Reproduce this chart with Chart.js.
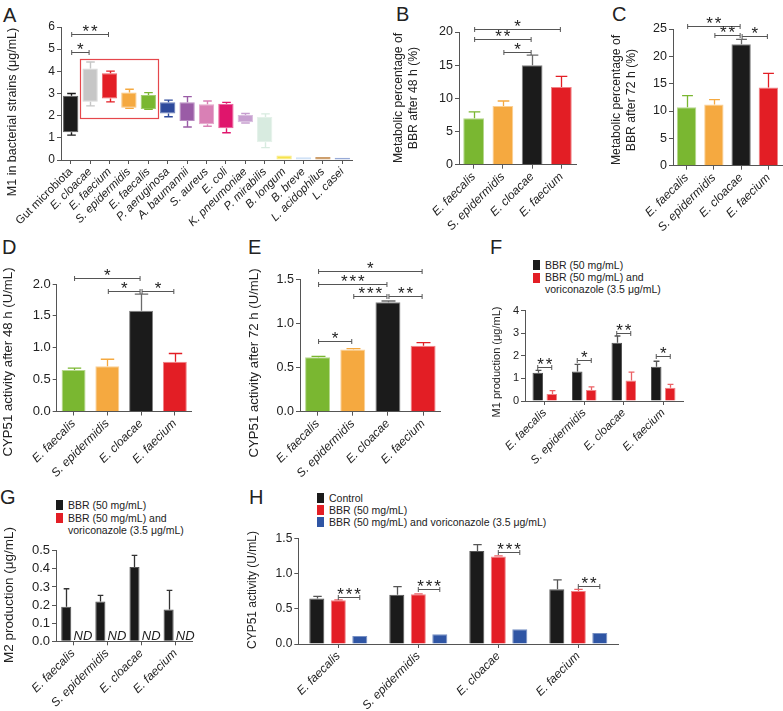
<!DOCTYPE html>
<html>
<head>
<meta charset="utf-8">
<title>BBR metabolism by gut bacteria</title>
<script src="https://cdn.jsdelivr.net/npm/chart.js@4.4.1/dist/chart.umd.min.js"></script>
<style>
  html, body { margin: 0; padding: 0; background: #fff; }
  body { position: relative; width: 783px; height: 711px; overflow: hidden; font-family: 'Liberation Sans', Arial, sans-serif; color: #222; }
  canvas { position: absolute; }
  .tag { position: absolute; font-size: 20px; line-height: 20px; }
  .key { position: absolute; font-size: 10.5px; line-height: 12px; white-space: nowrap; }
  .sw { position: absolute; width: 7px; height: 10px; }
</style>
</head>
<body>
<div class="tag" style="left:3px;top:5px">A</div>
<div class="tag" style="left:396px;top:4px">B</div>
<div class="tag" style="left:612px;top:4px">C</div>
<div class="tag" style="left:2px;top:237px">D</div>
<div class="tag" style="left:248px;top:237px">E</div>
<div class="tag" style="left:490px;top:237px">F</div>
<div class="tag" style="left:0px;top:487px">G</div>
<div class="tag" style="left:249px;top:487px">H</div>

<!-- legend F -->
<div class="sw" style="left:533px;top:260px;background:#1b1b1b"></div>
<div class="sw" style="left:533px;top:273px;background:#e31e25"></div>
<div class="key" style="left:545px;top:259px">BBR (50 mg/mL)</div>
<div class="key" style="left:545px;top:271px">BBR (50 mg/mL) and</div>
<div class="key" style="left:545px;top:283px">voriconazole (3.5 μg/mL)</div>

<!-- legend G -->
<div class="sw" style="left:56px;top:500px;background:#1b1b1b"></div>
<div class="sw" style="left:56px;top:513px;background:#e31e25"></div>
<div class="key" style="left:68px;top:499px">BBR (50 mg/mL)</div>
<div class="key" style="left:68px;top:512px">BBR (50 mg/mL) and</div>
<div class="key" style="left:68px;top:524px">voriconazole (3.5 μg/mL)</div>

<!-- legend H -->
<div class="sw" style="left:317px;top:493px;background:#1b1b1b"></div>
<div class="sw" style="left:317px;top:505px;background:#e31e25"></div>
<div class="sw" style="left:317px;top:517px;background:#2f55a4"></div>
<div class="key" style="left:329px;top:492px">Control</div>
<div class="key" style="left:329px;top:504px">BBR (50 mg/mL)</div>
<div class="key" style="left:329px;top:516px">BBR (50 mg/mL) and voriconazole (3.5 μg/mL)</div>

<script>
// ---- data ----
var speciesA = ['Gut microbiota', 'E. cloacae', 'E. faecium', 'S. epidermidis', 'E. faecalis',
  'P. aeruginosa', 'A. baumannii', 'S. aureus', 'E. coli', 'K. pneumoniae', 'P. mirabilis',
  'B. longum', 'B. breve', 'L. acidophilus', 'L. casei'];
var minA = [1.12, 2.44, 2.62, 2.33, 2.29, 1.95, 1.49, 1.52, 1.23, 1.67, 0.56, 0, 0, 0, 0];
var q1A  = [1.25, 2.63, 2.78, 2.36, 2.30, 2.10, 1.76, 1.61, 1.43, 1.70, 0.80, 0, 0, 0, 0];
var q3A  = [2.90, 4.13, 3.91, 3.05, 2.93, 2.60, 2.60, 2.51, 2.54, 2.03, 1.94, 0.20, 0.12, 0.13, 0.10];
var maxA = [3.00, 4.42, 4.01, 3.19, 3.04, 2.70, 2.86, 2.66, 2.60, 2.10, 2.08, 0.20, 0.12, 0.13, 0.10];
var highlightA = [1, 4, 1.88, 4.54];   // first strain, last strain, low, high
var sigA = [[0, 1, 4.85, '*'], [0, 2, 5.7, '**']];
var ticksA = [0, 1, 2, 3, 4, 5, 6];

var strains = ['E. faecalis', 'S. epidermidis', 'E. cloacae', 'E. faecium'];

var metab48 = [7.0, 8.85, 15.0, 11.7];
var metab48Err = [0.95, 0.75, 1.5, 1.6];
var sigB = [[0, 3, 20.5, '*'], [0, 2, 18.9, '**'], [1, 2, 17.0, '*']];
var ticksB = [0, 5, 10, 15, 20];

var metab72 = [10.7, 11.2, 22.2, 14.3];
var metab72Err = [2.1, 0.9, 0.9, 2.6];
var sigC = [[0, 2, 25.6, '**'], [1, 2, 23.9, '**'], [2, 3, 23.7, '*']];
var ticksC = [0, 5, 10, 15, 20, 25];

var cyp48 = [0.65, 0.71, 1.58, 0.78];
var cyp48Err = [0.03, 0.11, 0.26, 0.13];
var sigD = [[0, 2, 2.1, '*'], [1, 2, 1.885, '*'], [2, 3, 1.885, '*']];
var ticksD = [0, 0.5, 1.0, 1.5, 2.0];

var cyp72 = [0.616, 0.706, 1.239, 0.748];
var cyp72Err = [0.011, 0.008, 0.015, 0.034];
var sigE = [[0, 3, 1.594, '*'], [0, 2, 1.447, '***'], [1, 2, 1.311, '***'], [2, 3, 1.311, '**'], [0, 1, 0.797, '*']];
var ticksE = [0, 0.5, 1.0, 1.5];

var m1Bbr = [1.25, 1.31, 2.58, 1.52];
var m1BbrErr = [0.11, 0.31, 0.30, 0.24];
var m1Vori = [0.31, 0.49, 0.91, 0.59];
var m1VoriErr = [0.15, 0.14, 0.37, 0.15];
var sigF = [[0, 1.5, '**'], [1, 1.81, '*'], [2, 3.02, '**'], [3, 2.0, '*']];
var ticksF = [0, 1, 2, 3, 4];

var m2Bbr = [0.19, 0.22, 0.41, 0.176];
var m2BbrErr = [0.10, 0.034, 0.064, 0.105];
var m2Vori = [0, 0, 0, 0];   // not detected
var ticksG = [0, 0.1, 0.2, 0.3, 0.4, 0.5];

var cypControl = [0.644, 0.70, 1.32, 0.776];
var cypControlErr = [0.033, 0.114, 0.09, 0.133];
var cypBbr = [0.62, 0.705, 1.24, 0.752];
var cypBbrErr = [0.005, 0.005, 0.01, 0.024];
var cypVori = [0.114, 0.137, 0.208, 0.156];
var sigH = [[0, 0.672, '***'], [1, 0.776, '***'], [2, 1.306, '***'], [3, 0.828, '**']];
var ticksH = [0, 0.5, 1.0, 1.5];

// ---- styles ----
var FONT = "'Liberation Sans', Arial, sans-serif";
var AXIS = '#555';
var TXT = '#222';
var boxColors = ['#1b1b1b', '#c6c6c6', '#e31e25', '#f5a940', '#7ab731', '#2e4a9c', '#9a5ca6',
  '#d980b5', '#e0156c', '#c79fd0', '#d8ebe0', '#f7e34c', '#b7d3f2', '#b8742b', '#6a86c6'];
var strainColors = ['#7ab731', '#f5a940', '#1b1b1b', '#e31e25'];
var strainErrColors = ['#7ab731', '#f5a940', '#6b6b6b', '#e31e25'];
var BLACK = '#1b1b1b', RED = '#e31e25', BLUE = '#2f55a4';

Chart.defaults.font.family = FONT;
Chart.defaults.color = TXT;

function light(hex, k) {
  var n = parseInt(hex.slice(1), 16);
  var r = (n >> 16) & 255, g = (n >> 8) & 255, b = n & 255;
  r = Math.round(r + (255 - r) * k); g = Math.round(g + (255 - g) * k); b = Math.round(b + (255 - b) * k);
  return 'rgb(' + r + ',' + g + ',' + b + ')';
}

function place(rect) {
  var cv = document.createElement('canvas');
  cv.width = rect[2]; cv.height = rect[3];
  cv.style.left = rect[0] + 'px'; cv.style.top = rect[1] + 'px';
  document.body.appendChild(cv);
  return cv;
}

function stars(ctx, cx, lineY, n) {
  ctx.font = '17px ' + FONT;
  ctx.fillStyle = TXT;
  ctx.textAlign = 'center';
  ctx.textBaseline = 'alphabetic';
  var m = ctx.measureText('*');
  var mid = (m.actualBoundingBoxDescent - m.actualBoundingBoxAscent) / 2;
  var base = lineY - 6.5 - mid;
  for (var k = 0; k < n; k++) {
    ctx.fillText('*', cx + (k - (n - 1) / 2) * 8.5, base);
  }
}

function bracket(ctx, xa, xb, yy, label) {
  yy = Math.round(yy) + 0.5;
  ctx.strokeStyle = AXIS; ctx.lineWidth = 1;
  ctx.beginPath();
  ctx.moveTo(xa, yy); ctx.lineTo(xb, yy);
  ctx.moveTo(xa, yy - 2.5); ctx.lineTo(xa, yy + 2.5);
  ctx.moveTo(xb, yy - 2.5); ctx.lineTo(xb, yy + 2.5);
  ctx.stroke();
  stars(ctx, (xa + xb) / 2, yy, label.length);
}

function catBrackets(chart, list) {
  var x = chart.scales.x, y = chart.scales.y;
  list.forEach(function (s) {
    bracket(chart.ctx, x.getPixelForValue(s[0]) + 1, x.getPixelForValue(s[1]) - 1, y.getPixelForValue(s[2]), s[3]);
  });
}

function pairBrackets(chart, a, b, list) {
  var y = chart.scales.y, ma = chart.getDatasetMeta(a), mb = chart.getDatasetMeta(b);
  list.forEach(function (s) {
    bracket(chart.ctx, ma.data[s[0]].x, mb.data[s[0]].x, y.getPixelForValue(s[1]), s[2]);
  });
}

function errBars(chart, ds, vals, errs, colors) {
  var ctx = chart.ctx, y = chart.scales.y, meta = chart.getDatasetMeta(ds);
  meta.data.forEach(function (bar, i) {
    if (!errs[i]) return;
    var top = y.getPixelForValue(vals[i] + errs[i]);
    var half = bar.width * 0.28;
    var bx = Math.round(bar.x) + 0.5;
    ctx.strokeStyle = Array.isArray(colors) ? colors[i] : colors;
    ctx.lineWidth = 1.3;
    ctx.beginPath();
    ctx.moveTo(bx, y.getPixelForValue(vals[i])); ctx.lineTo(bx, top);
    ctx.moveTo(bx - half, top); ctx.lineTo(bx + half, top);
    ctx.stroke();
  });
}

function makeChart(spec) {
  var rect = spec.rect, area = spec.area;
  var cv = place(rect);
  var yTicks = spec.yTicks;
  var fmt = function (v) { return spec.decimals ? Number(v).toFixed(spec.decimals) : String(v); };
  var fullTicks = function (s) {
    s.ticks = yTicks.map(function (v) { return { value: v, label: fmt(v) }; });
    s._labelSizes = null;
  };
  var titlePlugin = {
    id: 'panelExtras',
    afterDatasetsDraw: function (chart) {
      chart.ctx.save();
      if (spec.draw) spec.draw(chart);
      chart.ctx.restore();
    },
    afterDraw: function (chart) {
      var ctx = chart.ctx, t = spec.title, y = chart.scales.y;
      ctx.save();
      // labels the y scale actually drew; any listed tick without one is added here
      var drawn = [];
      try {
        (y.getLabelItems ? y.getLabelItems(chart.chartArea) : y._labelItems || []).forEach(function (it) {
          drawn.push(String(it.label));
        });
      } catch (e) { drawn = []; }
      ctx.font = spec.tickSize + 'px ' + FONT;
      ctx.fillStyle = TXT; ctx.strokeStyle = AXIS; ctx.lineWidth = 1;
      ctx.textAlign = 'right'; ctx.textBaseline = 'middle';
      yTicks.forEach(function (v) {
        var lab = fmt(v);
        if (drawn.indexOf(lab) >= 0) return;
        var py = Math.round(y.getPixelForValue(v)) + 0.5, left = chart.chartArea.left;
        ctx.beginPath(); ctx.moveTo(left - 4, py); ctx.lineTo(left, py); ctx.stroke();
        ctx.fillText(lab, left - 6, py);
      });
      ctx.font = t.size + 'px ' + FONT;
      ctx.textAlign = 'center';
      ctx.textBaseline = 'middle';
      t.lines.forEach(function (line, k) {
        ctx.save();
        ctx.translate(t.xs[k] - rect[0], t.y - rect[1]);
        ctx.rotate(-Math.PI / 2);
        ctx.fillText(line, 0, 0);
        ctx.restore();
      });
      ctx.restore();
    }
  };
  return new Chart(cv, {
    type: 'bar',
    data: { labels: spec.labels, datasets: spec.datasets },
    options: {
      responsive: false,
      animation: false,
      events: [],
      layout: { padding: { left: 0, top: area[1] - rect[1], right: rect[0] + rect[2] - area[2], bottom: 0 } },
      plugins: { legend: { display: false }, tooltip: { enabled: false } },
      scales: {
        x: {
          grid: { display: true, drawOnChartArea: false, offset: false, tickLength: 4, color: AXIS },
          border: { color: AXIS, width: 1 },
          ticks: {
            autoSkip: false, maxRotation: 45, minRotation: 45, padding: 1, color: TXT,
            font: spec.xFont || { size: 12, style: 'italic' }
          },
          afterFit: function (s) { s.height = rect[1] + rect[3] - area[3]; s.paddingLeft = 0; s.paddingRight = 0; }
        },
        y: {
          min: yTicks[0], max: yTicks[yTicks.length - 1],
          grid: { drawOnChartArea: false, tickLength: 4, color: AXIS },
          border: { color: AXIS, width: 1 },
          ticks: {
            autoSkip: false, padding: 2, color: TXT,
            font: { size: spec.tickSize },
            callback: function (v) { return fmt(v); }
          },
          afterBuildTicks: function (s) { s.ticks = yTicks.map(function (v) { return { value: v }; }); },
          afterFit: function (s) {
            s.width = area[0] - rect[0]; s.paddingTop = 0; s.paddingBottom = 0;
            fullTicks(s);
          },
          afterUpdate: fullTicks
        }
      }
    },
    plugins: [titlePlugin]
  });
}

function strainSet(vals) {
  return [{
    data: vals, backgroundColor: strainColors,
    borderColor: strainColors.map(function (c) { return light(c, 0.45); }), borderWidth: 1,
    categoryPercentage: 1, barPercentage: 0.71
  }];
}

// ---- A: box plots ----
makeChart({
  rect: [0, 0, 372, 262], area: [61, 27, 352, 160],
  labels: speciesA, yTicks: ticksA, tickSize: 12,
  xFont: function (c) { return { size: 11.5, style: c.index === 0 ? 'normal' : 'italic' }; },
  title: { lines: ['M1 in bacterial strains (μg/mL)'], xs: [13], y: 112, size: 12.5 },
  datasets: [{
    data: q1A.map(function (v, i) { return [v, q3A[i]]; }),
    backgroundColor: boxColors,
    borderColor: boxColors.map(function (c) { return light(c, 0.3); }), borderWidth: 1,
    borderSkipped: false, categoryPercentage: 1, barPercentage: 0.79
  }],
  draw: function (chart) {
    var ctx = chart.ctx, x = chart.scales.x, y = chart.scales.y, meta = chart.getDatasetMeta(0);
    meta.data.forEach(function (bar, i) {
      var bx = Math.round(bar.x) + 0.5, half = bar.width * 0.28;
      ctx.strokeStyle = boxColors[i]; ctx.lineWidth = 1.4;
      ctx.beginPath();
      if (maxA[i] > q3A[i]) {
        var t = y.getPixelForValue(maxA[i]);
        ctx.moveTo(bx, y.getPixelForValue(q3A[i])); ctx.lineTo(bx, t);
        ctx.moveTo(bx - half, t); ctx.lineTo(bx + half, t);
      }
      if (minA[i] < q1A[i]) {
        var b = y.getPixelForValue(minA[i]);
        ctx.moveTo(bx, y.getPixelForValue(q1A[i])); ctx.lineTo(bx, b);
        ctx.moveTo(bx - half, b); ctx.lineTo(bx + half, b);
      }
      ctx.stroke();
    });
    var l = x.getPixelForValue(highlightA[0] - 0.5), r = x.getPixelForValue(highlightA[1] + 0.5);
    var top = y.getPixelForValue(highlightA[3]), bot = y.getPixelForValue(highlightA[2]);
    ctx.strokeStyle = '#e5474c'; ctx.lineWidth = 1.2;
    ctx.strokeRect(Math.round(l) + 0.5, Math.round(top) + 0.5, Math.round(r - l), Math.round(bot - top));
    catBrackets(chart, sigA);
  }
});

// ---- B ----
makeChart({
  rect: [380, 0, 200, 262], area: [459, 32, 576, 164.7],
  labels: strains, yTicks: ticksB, tickSize: 12.5,
  title: { lines: ['Metabolic percentage of', 'BBR after 48 h (%)'], xs: [398.3, 413.3], y: 98, size: 12.2 },
  datasets: strainSet(metab48),
  draw: function (chart) {
    errBars(chart, 0, metab48, metab48Err, strainErrColors);
    catBrackets(chart, sigB);
  }
});

// ---- C ----
makeChart({
  rect: [600, 0, 183, 262], area: [673, 29, 782, 165.7],
  labels: strains, yTicks: ticksC, tickSize: 12.5,
  title: { lines: ['Metabolic percentage of', 'BBR after 72 h (%)'], xs: [616.7, 631.7], y: 100, size: 12.2 },
  datasets: strainSet(metab72),
  draw: function (chart) {
    errBars(chart, 0, metab72, metab72Err, strainErrColors);
    catBrackets(chart, sigC);
  }
});

// ---- D ----
makeChart({
  rect: [0, 262, 246, 228], area: [56.7, 284, 191.7, 411.5],
  labels: strains, yTicks: ticksD, decimals: 1, tickSize: 13,
  title: { lines: ['CYP51 activity after 48 h (U/mL)'], xs: [8], y: 362, size: 13.2 },
  datasets: strainSet(cyp48),
  draw: function (chart) {
    errBars(chart, 0, cyp48, cyp48Err, strainErrColors);
    catBrackets(chart, sigD);
  }
});

// ---- E ----
makeChart({
  rect: [246, 262, 244, 228], area: [300, 279.3, 440.7, 411.7],
  labels: strains, yTicks: ticksE, decimals: 1, tickSize: 12.5,
  title: { lines: ['CYP51 activity after 72 h (U/mL)'], xs: [254], y: 363, size: 13.2 },
  datasets: strainSet(cyp72),
  draw: function (chart) {
    errBars(chart, 0, cyp72, cyp72Err, strainErrColors);
    catBrackets(chart, sigE);
  }
});

// ---- F ----
makeChart({
  rect: [490, 262, 293, 228], area: [525, 310.7, 683, 401],
  labels: strains, yTicks: ticksF, tickSize: 11,
  xFont: { size: 11.5, style: 'italic' },
  title: { lines: ['M1 production (μg/mL)'], xs: [497], y: 362, size: 11 },
  datasets: [
    { data: m1Bbr, backgroundColor: BLACK, borderColor: '#555', borderWidth: 1, categoryPercentage: 0.71, barPercentage: 0.75 },
    { data: m1Vori, backgroundColor: RED, borderColor: light(RED, 0.45), borderWidth: 1, categoryPercentage: 0.71, barPercentage: 0.75 }
  ],
  draw: function (chart) {
    errBars(chart, 0, m1Bbr, m1BbrErr, '#555');
    errBars(chart, 1, m1Vori, m1VoriErr, light(RED, 0.3));
    pairBrackets(chart, 0, 1, sigF);
  }
});

// ---- G ----
makeChart({
  rect: [0, 490, 246, 221], area: [56, 550.7, 192.5, 641.3],
  labels: strains, yTicks: ticksG, decimals: 1, tickSize: 13,
  title: { lines: ['M2 production (μg/mL)'], xs: [9], y: 595, size: 13.5 },
  datasets: [
    { data: m2Bbr, backgroundColor: BLACK, borderColor: '#555', borderWidth: 1, categoryPercentage: 0.8, barPercentage: 0.74 },
    { data: m2Vori, backgroundColor: RED, borderWidth: 0, categoryPercentage: 0.8, barPercentage: 0.74 }
  ],
  draw: function (chart) {
    var ctx = chart.ctx, y = chart.scales.y, meta = chart.getDatasetMeta(1);
    errBars(chart, 0, m2Bbr, m2BbrErr, '#333');
    ctx.font = 'italic 13px ' + FONT;
    ctx.fillStyle = TXT; ctx.textAlign = 'center'; ctx.textBaseline = 'alphabetic';
    m2Vori.forEach(function (v, i) {
      if (v === 0) ctx.fillText('ND', meta.data[i].x + 3, y.getPixelForValue(0) - 1);
    });
  }
});

// ---- H ----
makeChart({
  rect: [246, 490, 537, 221], area: [298.3, 538.3, 618.3, 644],
  labels: strains, yTicks: ticksH, decimals: 1, tickSize: 12,
  title: { lines: ['CYP51 activity (U/mL)'], xs: [253], y: 590, size: 12 },
  datasets: [
    { data: cypControl, backgroundColor: BLACK, borderColor: '#555', borderWidth: 1, categoryPercentage: 0.806, barPercentage: 0.7 },
    { data: cypBbr, backgroundColor: RED, borderColor: light(RED, 0.45), borderWidth: 1, categoryPercentage: 0.806, barPercentage: 0.7 },
    { data: cypVori, backgroundColor: BLUE, borderColor: light(BLUE, 0.35), borderWidth: 1, categoryPercentage: 0.806, barPercentage: 0.7 }
  ],
  draw: function (chart) {
    errBars(chart, 0, cypControl, cypControlErr, '#555');
    errBars(chart, 1, cypBbr, cypBbrErr, light(RED, 0.3));
    pairBrackets(chart, 1, 2, sigH);
  }
});
</script>
</body>
</html>
